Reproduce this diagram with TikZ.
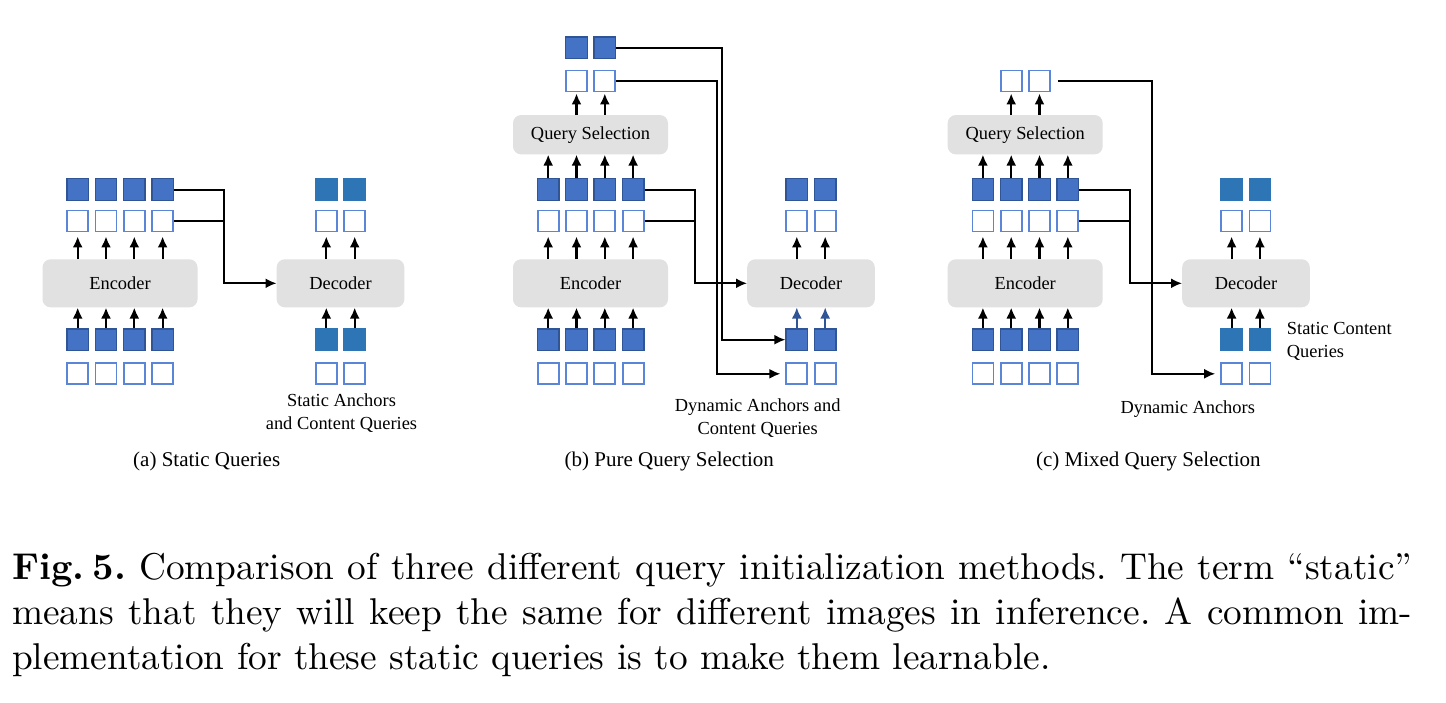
\documentclass[tikz,border=0pt]{standalone}
\usepackage{fontspec}
\newfontfamily\diagfont{Liberation Serif}
\newfontfamily\capfont{lmroman10}[Extension=.otf,UprightFont=*-regular,BoldFont=*-bold]
\usepackage{tikz}
\usetikzlibrary{arrows.meta}
\definecolor{qblue}{HTML}{4472C4}
\definecolor{qedge}{HTML}{2F5597}
\definecolor{qline}{HTML}{5B85D6}
\definecolor{sblue}{HTML}{2E75B6}
\definecolor{boxgray}{HTML}{E1E1E1}

\begin{document}
\begin{tikzpicture}[x=1pt,y=-1pt,
  >={Latex[length=11pt,width=10pt]},
  qf/.style={draw=qedge,fill=qblue,line width=1.3pt,minimum size=21.5pt,inner sep=0pt},
  qh/.style={draw=qline,fill=white,line width=1.8pt,minimum size=21pt,inner sep=0pt},
  qs/.style={draw=sblue,fill=sblue,line width=1.2pt,minimum size=21.5pt,inner sep=0pt},
  block/.style={fill=boxgray,rounded corners=8pt,inner sep=0pt,minimum height=48pt,font=\diagfont\fontsize{18.4}{22}\selectfont},
  up/.style={->,line width=2.2pt},
  link/.style={line width=2pt},
  note/.style={font=\diagfont\fontsize{18.4}{23}\selectfont,align=center,inner sep=0pt},
  sub/.style={font=\diagfont\fontsize{21}{25}\selectfont,inner sep=0pt}]
\useasboundingbox (0,0) rectangle (1446,702);
%panel a: encoder
\node[block,minimum width=155pt] (a-enc) at (120,283.3) {\raisebox{-2pt}{Encoder}};
\node[qf] (a-ef1) at (77.7,189.5) {}; \node[qf] (a-ef2) at (106,189.5) {}; \node[qf] (a-ef3) at (134.3,189.5) {}; \node[qf] (a-ef4) at (162.6,189.5) {};
\node[qh] (a-eh1) at (77.7,221) {}; \node[qh] (a-eh2) at (106,221) {}; \node[qh] (a-eh3) at (134.3,221) {}; \node[qh] (a-eh4) at (162.6,221) {};
\node[qf] (a-xf1) at (77.7,339.7) {}; \node[qf] (a-xf2) at (106,339.7) {}; \node[qf] (a-xf3) at (134.3,339.7) {}; \node[qf] (a-xf4) at (162.6,339.7) {};
\node[qh] (a-xh1) at (77.7,373.8) {}; \node[qh] (a-xh2) at (106,373.8) {}; \node[qh] (a-xh3) at (134.3,373.8) {}; \node[qh] (a-xh4) at (162.6,373.8) {};
\draw[up] (a-xf1.north) -- (a-xf1.north |- a-enc.south); \draw[up] (a-xf2.north) -- (a-xf2.north |- a-enc.south);
\draw[up] (a-xf3.north) -- (a-xf3.north |- a-enc.south); \draw[up] (a-xf4.north) -- (a-xf4.north |- a-enc.south);
\draw[up,shorten >=4pt] (a-eh1.south |- a-enc.north) -- (a-eh1.south); \draw[up,shorten >=4pt] (a-eh2.south |- a-enc.north) -- (a-eh2.south);
\draw[up,shorten >=4pt] (a-eh3.south |- a-enc.north) -- (a-eh3.south); \draw[up,shorten >=4pt] (a-eh4.south |- a-enc.north) -- (a-eh4.south);
%panel a: decoder
\node[block,minimum width=127.6pt] (a-dec) at (340.5,283.3) {\raisebox{-2pt}{Decoder}};
\node[qs] (a-df1) at (326.3,189.5) {}; \node[qs] (a-df2) at (354.7,189.5) {};
\node[qh] (a-dh1) at (326.3,221) {}; \node[qh] (a-dh2) at (354.7,221) {};
\node[qs] (a-qf1) at (326.3,339.7) {}; \node[qs] (a-qf2) at (354.7,339.7) {};
\node[qh] (a-qh1) at (326.3,373.8) {}; \node[qh] (a-qh2) at (354.7,373.8) {};
\draw[up] (a-qf1.north) -- (a-qf1.north |- a-dec.south); \draw[up] (a-qf2.north) -- (a-qf2.north |- a-dec.south);
\draw[up,shorten >=4pt] (a-dh1.south |- a-dec.north) -- (a-dh1.south); \draw[up,shorten >=4pt] (a-dh2.south |- a-dec.north) -- (a-dh2.south);
\coordinate (a-turn) at (224.3,0);
\draw[link,->] (a-ef4.east) -- (a-ef4.east -| a-turn) |- (a-dec.west);
\draw[line width=1.4pt] (a-eh4.east) -- (a-eh4.east -| a-turn);
\node[note] (a-note) at (341.5,413.5) {Static Anchors\\and Content Queries};
\node[sub] (a-sub) at (206.7,461.7) {(a) Static Queries};
%panel b: encoder and query selection
\node[block,minimum width=155pt] (b-enc) at (590.5,283.3) {\raisebox{-2pt}{Encoder}};
\node[block,minimum width=155pt,minimum height=39.3pt] (b-sel) at (590.5,134.7) {Query Selection};
\node[qf] (b-sf1) at (576.5,47.8) {}; \node[qf] (b-sf2) at (604.8,47.8) {};
\node[qh] (b-sh1) at (576.5,81) {}; \node[qh] (b-sh2) at (604.8,81) {};
\node[qf] (b-ef1) at (548.2,189.5) {}; \node[qf] (b-ef2) at (576.5,189.5) {}; \node[qf] (b-ef3) at (604.8,189.5) {}; \node[qf] (b-ef4) at (633.1,189.5) {};
\node[qh] (b-eh1) at (548.2,221) {}; \node[qh] (b-eh2) at (576.5,221) {}; \node[qh] (b-eh3) at (604.8,221) {}; \node[qh] (b-eh4) at (633.1,221) {};
\node[qf] (b-xf1) at (548.2,339.7) {}; \node[qf] (b-xf2) at (576.5,339.7) {}; \node[qf] (b-xf3) at (604.8,339.7) {}; \node[qf] (b-xf4) at (633.1,339.7) {};
\node[qh] (b-xh1) at (548.2,373.8) {}; \node[qh] (b-xh2) at (576.5,373.8) {}; \node[qh] (b-xh3) at (604.8,373.8) {}; \node[qh] (b-xh4) at (633.1,373.8) {};
\draw[up] (b-xf1.north) -- (b-xf1.north |- b-enc.south); \draw[up] (b-xf2.north) -- (b-xf2.north |- b-enc.south);
\draw[up] (b-xf3.north) -- (b-xf3.north |- b-enc.south); \draw[up] (b-xf4.north) -- (b-xf4.north |- b-enc.south);
\draw[up,shorten >=4pt] (b-eh1.south |- b-enc.north) -- (b-eh1.south); \draw[up,shorten >=4pt] (b-eh2.south |- b-enc.north) -- (b-eh2.south);
\draw[up,shorten >=4pt] (b-eh3.south |- b-enc.north) -- (b-eh3.south); \draw[up,shorten >=4pt] (b-eh4.south |- b-enc.north) -- (b-eh4.south);
\draw[up] (b-ef1.north) -- (b-ef1.north |- b-sel.south); \draw[up] (b-ef2.north) -- (b-ef2.north |- b-sel.south);
\draw[up] (b-ef3.north) -- (b-ef3.north |- b-sel.south); \draw[up] (b-ef4.north) -- (b-ef4.north |- b-sel.south);
\draw[up,shorten >=1pt] (b-sh1.south |- b-sel.north) -- (b-sh1.south); \draw[up,shorten >=1pt] (b-sh2.south |- b-sel.north) -- (b-sh2.south);
%panel b: decoder
\node[block,minimum width=127.6pt] (b-dec) at (811,283.3) {\raisebox{-2pt}{Decoder}};
\node[qf] (b-df1) at (796.8,189.5) {}; \node[qf] (b-df2) at (825.2,189.5) {};
\node[qh] (b-dh1) at (796.8,221) {}; \node[qh] (b-dh2) at (825.2,221) {};
\node[qf] (b-qf1) at (796.8,339.7) {}; \node[qf] (b-qf2) at (825.2,339.7) {};
\node[qh] (b-qh1) at (796.8,373.8) {}; \node[qh] (b-qh2) at (825.2,373.8) {};
\draw[up,qedge,line width=1.8pt] (b-qf1.north) -- (b-qf1.north |- b-dec.south); \draw[up,qedge,line width=1.8pt] (b-qf2.north) -- (b-qf2.north |- b-dec.south);
\draw[up,shorten >=4pt] (b-dh1.south |- b-dec.north) -- (b-dh1.south); \draw[up,shorten >=4pt] (b-dh2.south |- b-dec.north) -- (b-dh2.south);
\coordinate (b-turn1) at (721.7,0);
\coordinate (b-turn2) at (716.7,0);
\coordinate (b-turn3) at (695,0);
\draw[link,->] (b-sf2.east) -- (b-sf2.east -| b-turn1) |- (b-qf1.west);
\draw[link,->,shorten >=5pt] (b-sh2.east) -- (b-sh2.east -| b-turn2) |- (b-qh1.west);
\draw[link,->] (b-ef4.east) -- (b-ef4.east -| b-turn3) |- (b-dec.west);
\draw[line width=1.4pt] (b-eh4.east) -- (b-eh4.east -| b-turn3);
\node[note] (b-note) at (757.7,418) {Dynamic Anchors and\\Content Queries};
\node[sub] (b-sub) at (669.3,461.7) {(b) Pure Query Selection};
%panel c: encoder and query selection
\node[block,minimum width=155pt] (c-enc) at (1025.2,283.3) {\raisebox{-2pt}{Encoder}};
\node[block,minimum width=155pt,minimum height=39.3pt] (c-sel) at (1025.2,134.7) {Query Selection};
\node[qh] (c-sh1) at (1011.2,81) {}; \node[qh] (c-sh2) at (1039.5,81) {};
\node[qf] (c-ef1) at (982.9,189.5) {}; \node[qf] (c-ef2) at (1011.2,189.5) {}; \node[qf] (c-ef3) at (1039.5,189.5) {}; \node[qf] (c-ef4) at (1067.8,189.5) {};
\node[qh] (c-eh1) at (982.9,221) {}; \node[qh] (c-eh2) at (1011.2,221) {}; \node[qh] (c-eh3) at (1039.5,221) {}; \node[qh] (c-eh4) at (1067.8,221) {};
\node[qf] (c-xf1) at (982.9,339.7) {}; \node[qf] (c-xf2) at (1011.2,339.7) {}; \node[qf] (c-xf3) at (1039.5,339.7) {}; \node[qf] (c-xf4) at (1067.8,339.7) {};
\node[qh] (c-xh1) at (982.9,373.8) {}; \node[qh] (c-xh2) at (1011.2,373.8) {}; \node[qh] (c-xh3) at (1039.5,373.8) {}; \node[qh] (c-xh4) at (1067.8,373.8) {};
\draw[up] (c-xf1.north) -- (c-xf1.north |- c-enc.south); \draw[up] (c-xf2.north) -- (c-xf2.north |- c-enc.south);
\draw[up] (c-xf3.north) -- (c-xf3.north |- c-enc.south); \draw[up] (c-xf4.north) -- (c-xf4.north |- c-enc.south);
\draw[up,shorten >=4pt] (c-eh1.south |- c-enc.north) -- (c-eh1.south); \draw[up,shorten >=4pt] (c-eh2.south |- c-enc.north) -- (c-eh2.south);
\draw[up,shorten >=4pt] (c-eh3.south |- c-enc.north) -- (c-eh3.south); \draw[up,shorten >=4pt] (c-eh4.south |- c-enc.north) -- (c-eh4.south);
\draw[up] (c-ef1.north) -- (c-ef1.north |- c-sel.south); \draw[up] (c-ef2.north) -- (c-ef2.north |- c-sel.south);
\draw[up] (c-ef3.north) -- (c-ef3.north |- c-sel.south); \draw[up] (c-ef4.north) -- (c-ef4.north |- c-sel.south);
\draw[up,shorten >=1pt] (c-sh1.south |- c-sel.north) -- (c-sh1.south); \draw[up,shorten >=1pt] (c-sh2.south |- c-sel.north) -- (c-sh2.south);
%panel c: decoder
\node[block,minimum width=127.6pt] (c-dec) at (1246,283.3) {\raisebox{-2pt}{Decoder}};
\node[qs] (c-df1) at (1231.6,189.5) {}; \node[qs] (c-df2) at (1259.9,189.5) {};
\node[qh] (c-dh1) at (1231.6,221) {}; \node[qh] (c-dh2) at (1259.9,221) {};
\node[qs] (c-qf1) at (1231.6,339.7) {}; \node[qs] (c-qf2) at (1259.9,339.7) {};
\node[qh] (c-qh1) at (1231.6,373.8) {}; \node[qh] (c-qh2) at (1259.9,373.8) {};
\draw[up] (c-qf1.north) -- (c-qf1.north |- c-dec.south); \draw[up] (c-qf2.north) -- (c-qf2.north |- c-dec.south);
\draw[up,shorten >=4pt] (c-dh1.south |- c-dec.north) -- (c-dh1.south); \draw[up,shorten >=4pt] (c-dh2.south |- c-dec.north) -- (c-dh2.south);
\coordinate (c-turn1) at (1151.7,0);
\coordinate (c-turn3) at (1130,0);
\draw[link,->,shorten <=7pt,shorten >=5pt] (c-sh2.east) -- (c-sh2.east -| c-turn1) |- (c-qh1.west);
\draw[link,->] (c-ef4.east) -- (c-ef4.east -| c-turn3) |- (c-dec.west);
\draw[line width=1.4pt] (c-eh4.east) -- (c-eh4.east -| c-turn3);
\node[note,align=left,anchor=west] (c-note1) at (1286.7,341) {Static Content\\Queries};
\node[note] (c-note2) at (1187.7,409.3) {Dynamic Anchors};
\node[sub] (c-sub) at (1148.3,461) {(c) Mixed Query Selection};
%caption
\node[anchor=north west,inner sep=0pt,text width=1400pt,align=justify,font=\capfont\fontsize{37.3}{45}\selectfont\frenchspacing] (caption) at (12,553)
  {\textbf{Fig.\hspace{0.22em}5.} Comparison of three different query initialization methods. The term “static”\linebreak means that they will keep the same for different images in inference. A common im-\linebreak plementation for these static queries is to make them learnable.};
\end{tikzpicture}
\end{document}
